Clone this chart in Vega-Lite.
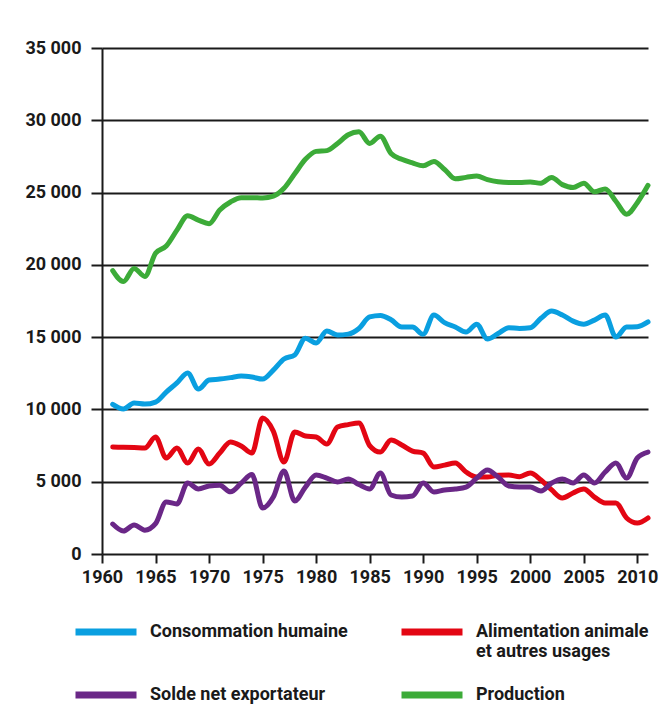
{
  "$schema": "https://vega.github.io/schema/vega-lite/v6.json",
  "width": 546,
  "height": 506,
  "autosize": {"type": "none"},
  "padding": {"left": 102, "top": 48, "right": 21, "bottom": 152},
  "background": "white",
  "datasets": {
    "raw": [
      {"year":1961,"Consommation humaine":10350,"Alimentation animale et autres usages":7400,"Solde net exportateur":2070,"Production":19600},
      {"year":1962,"Consommation humaine":10030,"Alimentation animale et autres usages":7380,"Solde net exportateur":1590,"Production":18850},
      {"year":1963,"Consommation humaine":10440,"Alimentation animale et autres usages":7360,"Solde net exportateur":2010,"Production":19750},
      {"year":1964,"Consommation humaine":10370,"Alimentation animale et autres usages":7330,"Solde net exportateur":1650,"Production":19200},
      {"year":1965,"Consommation humaine":10510,"Alimentation animale et autres usages":8090,"Solde net exportateur":2100,"Production":20800},
      {"year":1966,"Consommation humaine":11200,"Alimentation animale et autres usages":6640,"Solde net exportateur":3600,"Production":21300},
      {"year":1967,"Consommation humaine":11830,"Alimentation animale et autres usages":7330,"Solde net exportateur":3460,"Production":22400},
      {"year":1968,"Consommation humaine":12520,"Alimentation animale et autres usages":6290,"Solde net exportateur":4910,"Production":23400},
      {"year":1969,"Consommation humaine":11410,"Alimentation animale et autres usages":7260,"Solde net exportateur":4500,"Production":23100},
      {"year":1970,"Consommation humaine":12030,"Alimentation animale et autres usages":6220,"Solde net exportateur":4700,"Production":22850},
      {"year":1971,"Consommation humaine":12100,"Alimentation animale et autres usages":6980,"Solde net exportateur":4750,"Production":23800},
      {"year":1972,"Consommation humaine":12200,"Alimentation animale et autres usages":7750,"Solde net exportateur":4300,"Production":24350},
      {"year":1973,"Consommation humaine":12310,"Alimentation animale et autres usages":7470,"Solde net exportateur":4900,"Production":24650},
      {"year":1974,"Consommation humaine":12240,"Alimentation animale et autres usages":6980,"Solde net exportateur":5500,"Production":24650},
      {"year":1975,"Consommation humaine":12100,"Alimentation animale et autres usages":9400,"Solde net exportateur":3180,"Production":24620},
      {"year":1976,"Consommation humaine":12720,"Alimentation animale et autres usages":8500,"Solde net exportateur":3940,"Production":24750},
      {"year":1977,"Consommation humaine":13490,"Alimentation animale et autres usages":6360,"Solde net exportateur":5740,"Production":25300},
      {"year":1978,"Consommation humaine":13760,"Alimentation animale et autres usages":8440,"Solde net exportateur":3670,"Production":26300},
      {"year":1979,"Consommation humaine":14930,"Alimentation animale et autres usages":8160,"Solde net exportateur":4630,"Production":27300},
      {"year":1980,"Consommation humaine":14590,"Alimentation animale et autres usages":8090,"Solde net exportateur":5460,"Production":27850},
      {"year":1981,"Consommation humaine":15420,"Alimentation animale et autres usages":7610,"Solde net exportateur":5250,"Production":27900},
      {"year":1982,"Consommation humaine":15150,"Alimentation animale et autres usages":8780,"Solde net exportateur":4980,"Production":28400},
      {"year":1983,"Consommation humaine":15210,"Alimentation animale et autres usages":8950,"Solde net exportateur":5190,"Production":29000},
      {"year":1984,"Consommation humaine":15600,"Alimentation animale et autres usages":9060,"Solde net exportateur":4800,"Production":29200},
      {"year":1985,"Consommation humaine":16400,"Alimentation animale et autres usages":7500,"Solde net exportateur":4500,"Production":28400},
      {"year":1986,"Consommation humaine":16500,"Alimentation animale et autres usages":7050,"Solde net exportateur":5600,"Production":28900},
      {"year":1987,"Consommation humaine":16200,"Alimentation animale et autres usages":7880,"Solde net exportateur":4080,"Production":27700},
      {"year":1988,"Consommation humaine":15700,"Alimentation animale et autres usages":7540,"Solde net exportateur":3940,"Production":27300},
      {"year":1989,"Consommation humaine":15700,"Alimentation animale et autres usages":7120,"Solde net exportateur":4010,"Production":27050},
      {"year":1990,"Consommation humaine":15200,"Alimentation animale et autres usages":6980,"Solde net exportateur":4910,"Production":26850},
      {"year":1991,"Consommation humaine":16530,"Alimentation animale et autres usages":6020,"Solde net exportateur":4290,"Production":27150},
      {"year":1992,"Consommation humaine":16000,"Alimentation animale et autres usages":6150,"Solde net exportateur":4430,"Production":26600},
      {"year":1993,"Consommation humaine":15700,"Alimentation animale et autres usages":6290,"Solde net exportateur":4500,"Production":25950},
      {"year":1994,"Consommation humaine":15350,"Alimentation animale et autres usages":5670,"Solde net exportateur":4630,"Production":26050},
      {"year":1995,"Consommation humaine":15900,"Alimentation animale et autres usages":5320,"Solde net exportateur":5250,"Production":26150},
      {"year":1996,"Consommation humaine":14870,"Alimentation animale et autres usages":5320,"Solde net exportateur":5810,"Production":25900},
      {"year":1997,"Consommation humaine":15250,"Alimentation animale et autres usages":5450,"Solde net exportateur":5320,"Production":25750},
      {"year":1998,"Consommation humaine":15650,"Alimentation animale et autres usages":5460,"Solde net exportateur":4700,"Production":25700},
      {"year":1999,"Consommation humaine":15600,"Alimentation animale et autres usages":5350,"Solde net exportateur":4630,"Production":25700},
      {"year":2000,"Consommation humaine":15650,"Alimentation animale et autres usages":5600,"Solde net exportateur":4630,"Production":25730},
      {"year":2001,"Consommation humaine":16300,"Alimentation animale et autres usages":5120,"Solde net exportateur":4360,"Production":25650},
      {"year":2002,"Consommation humaine":16800,"Alimentation animale et autres usages":4430,"Solde net exportateur":4910,"Production":26050},
      {"year":2003,"Consommation humaine":16530,"Alimentation animale et autres usages":3870,"Solde net exportateur":5190,"Production":25550},
      {"year":2004,"Consommation humaine":16110,"Alimentation animale et autres usages":4220,"Solde net exportateur":4910,"Production":25350},
      {"year":2005,"Consommation humaine":15900,"Alimentation animale et autres usages":4500,"Solde net exportateur":5460,"Production":25650},
      {"year":2006,"Consommation humaine":16180,"Alimentation animale et autres usages":3940,"Solde net exportateur":4910,"Production":25050},
      {"year":2007,"Consommation humaine":16530,"Alimentation animale et autres usages":3530,"Solde net exportateur":5670,"Production":25250},
      {"year":2008,"Consommation humaine":15010,"Alimentation animale et autres usages":3530,"Solde net exportateur":6290,"Production":24400},
      {"year":2009,"Consommation humaine":15700,"Alimentation animale et autres usages":2490,"Solde net exportateur":5250,"Production":23500},
      {"year":2010,"Consommation humaine":15720,"Alimentation animale et autres usages":2140,"Solde net exportateur":6640,"Production":24300},
      {"year":2011,"Consommation humaine":16050,"Alimentation animale et autres usages":2490,"Solde net exportateur":7050,"Production":25500}
    ]
  },
  "data": {"name": "raw"},
  "transform": [
    {"fold": ["Consommation humaine", "Alimentation animale et autres usages", "Solde net exportateur", "Production"], "as": ["serie", "valeur"]}
  ],
  "mark": {"type": "line", "interpolate": "monotone", "strokeWidth": 5, "strokeCap": "round", "strokeJoin": "round"},
  "encoding": {
    "x": {
      "field": "year", "type": "quantitative",
      "scale": {"domain": [1960, 2011], "nice": false, "zero": false},
      "axis": {
        "title": null, "values": [1960, 1965, 1970, 1975, 1980, 1985, 1990, 1995, 2000, 2005, 2010],
        "format": "d", "grid": false, "domain": false, "tickSize": 9, "tickWidth": 2, "tickColor": "#1a1a1a",
        "labelOverlap": false, "labelFlush": false,
        "labelPadding": 5, "labelFont": "Roboto", "labelFontSize": 18, "labelFontWeight": "bold", "labelColor": "#1a1a1a"
      }
    },
    "y": {
      "field": "valeur", "type": "quantitative",
      "scale": {"domain": [0, 35000], "nice": false},
      "axis": {
        "title": null, "values": [0, 5000, 10000, 15000, 20000, 25000, 30000, 35000],
        "labelExpr": "replace(format(datum.value, ','), ',', ' ')",
        "grid": true, "gridColor": "#1a1a1a", "gridWidth": 2, "gridOpacity": 1,
        "domain": true, "domainColor": "#1a1a1a", "domainWidth": 2,
        "tickSize": 11, "tickWidth": 2, "tickColor": "#1a1a1a",
        "labelOverlap": false, "labelFlush": false,
        "labelPadding": 10, "labelFont": "Roboto", "labelFontSize": 18, "labelFontWeight": "bold", "labelColor": "#1a1a1a"
      }
    },
    "color": {
      "field": "serie", "type": "nominal",
      "scale": {
        "domain": ["Consommation humaine", "Alimentation animale et autres usages", "Solde net exportateur", "Production"],
        "range": ["#0a9fe0", "#e30613", "#6a2787", "#3cab38"]
      },
      "legend": {
        "title": null, "orient": "none", "legendX": -30, "legendY": 550,
        "direction": "horizontal", "columns": 2, "columnPadding": 39, "rowPadding": -9,
        "padding": 0, "symbolType": "stroke", "symbolStrokeWidth": 7, "symbolSize": 3721,
        "labelFont": "Roboto", "labelFontSize": 18, "labelFontWeight": "bold", "labelColor": "#1a1a1a",
        "labelOffset": 10, "labelLimit": 400, "labelLineHeight": 20,
        "labelExpr": "datum.label == 'Alimentation animale et autres usages' ? ['Alimentation animale', 'et autres usages'] : [datum.label, ' ']"
      }
    }
  },
  "config": {
    "view": {"stroke": null}
  }
}
